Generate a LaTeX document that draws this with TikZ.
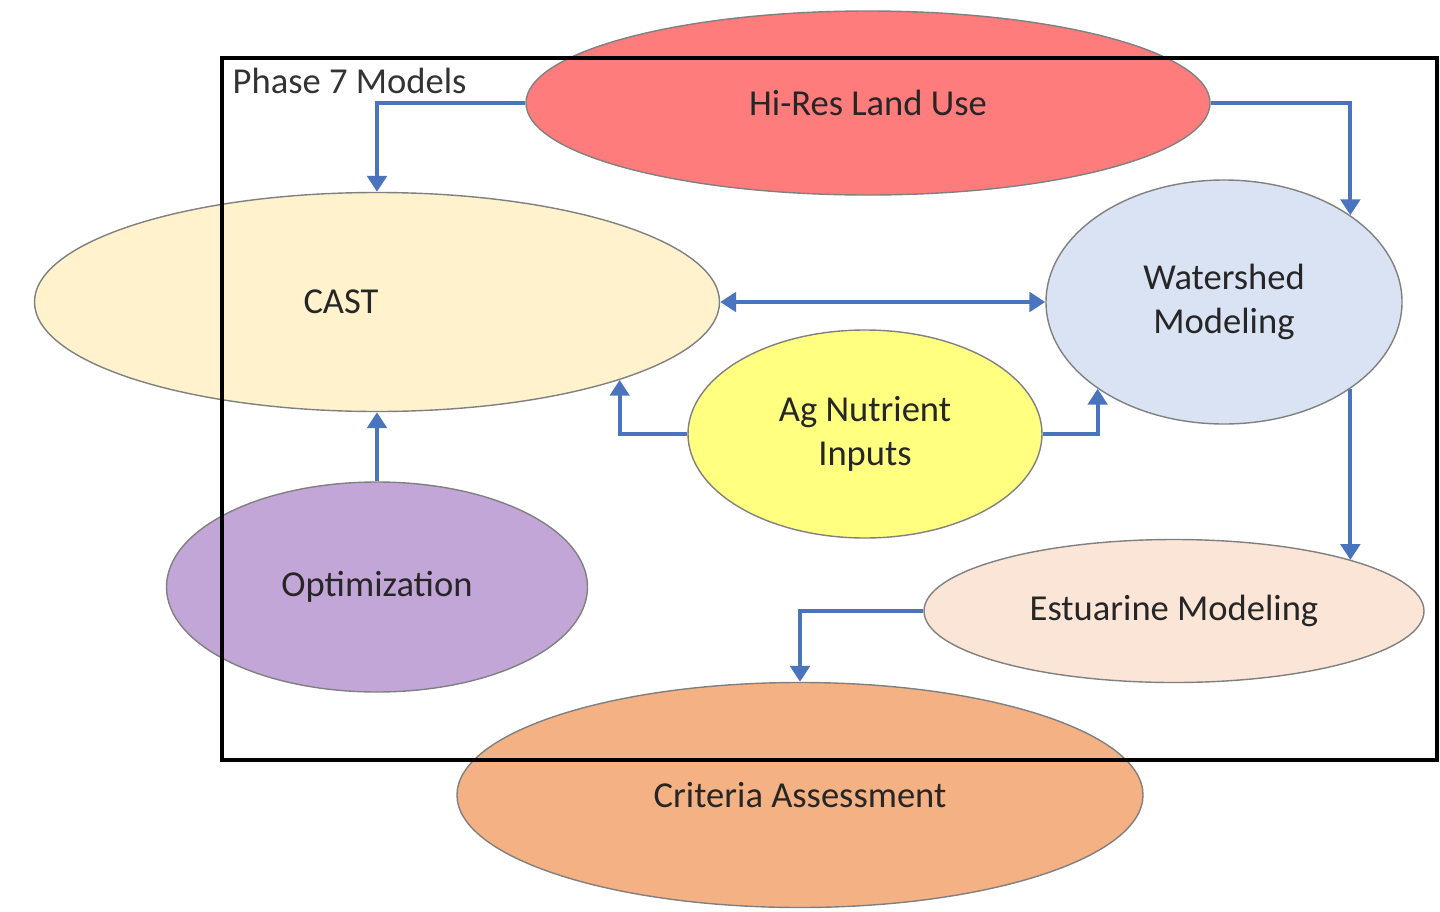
\documentclass[tikz,border=0pt]{standalone}
\usepackage{fontspec}
\setmainfont{Carlito}
\usetikzlibrary{shapes.geometric,arrows.meta}
\definecolor{landred}{HTML}{FF7C7C}
\definecolor{castcream}{HTML}{FFF2CC}
\definecolor{shedblue}{HTML}{DAE3F3}
\definecolor{agyellow}{HTML}{FFFF80}
\definecolor{optpurple}{HTML}{C3A6D8}
\definecolor{estpeach}{HTML}{FBE5D6}
\definecolor{critorange}{HTML}{F4B183}
\definecolor{flowblue}{HTML}{4A74BE}
\tikzset{
  model/.style={ellipse, draw=black!50, line width=0.4pt, inner sep=0pt,
    align=center, font=\fontsize{10.4}{12.4}\selectfont, text=black!85},
  flow/.style={draw=flowblue, line width=1.1pt,
    -{Triangle[width=5.5pt,length=4.5pt]}},
}
\begin{document}
\begin{tikzpicture}
  \useasboundingbox (0,0) rectangle (14.4,9.11);
	\node[model, fill=landred, minimum width=6.84cm, minimum height=1.84cm] (hires) at (8.68,8.08) {Hi-Res Land Use};
	\node[model, fill=castcream, minimum width=6.85cm, minimum height=2.19cm] (cast) at (3.77,6.09) {CAST\hspace*{7.2mm}};
	\node[model, fill=shedblue, minimum width=3.56cm, minimum height=2.44cm] (watershed) at (12.24,6.09) {Watershed\\Modeling};
	\node[model, fill=agyellow, minimum width=3.54cm, minimum height=2.08cm] (agin) at (8.65,4.77) {Ag Nutrient\\Inputs};
	\node[model, fill=optpurple, minimum width=4.21cm, minimum height=2.10cm] (optim) at (3.77,3.24) {Optimization};
	\node[model, fill=estpeach, minimum width=5.00cm, minimum height=1.43cm] (estuarine) at (11.74,3.00) {Estuarine Modeling};
	\node[model, fill=critorange, minimum width=6.86cm, minimum height=2.25cm] (criteria) at (8.00,1.16) {Criteria Assessment};
	% connectors
	\draw[flow] (hires.west) -| (cast.north);
	\draw[flow] (hires.east) -| (watershed.north east);
	\draw[flow, {Triangle[width=5.5pt,length=4.5pt]}-{Triangle[width=5.5pt,length=4.5pt]}] (cast.east) -- (watershed.west);
	\draw[flow] (agin.west) -| (cast.south east);
	\draw[flow] (agin.east) -| (watershed.south west);
	\draw[flow] (optim.north) -- (cast.south);
	\draw[flow] (watershed.south east) -- (watershed.south east |- estuarine.north east);
	\draw[flow] (estuarine.west) -| (criteria.north);
	% frame
	\draw[line width=1.3pt] (2.22,8.53) rectangle (14.37,1.51);
	\node[anchor=base west, inner sep=0pt, font=\fontsize{10.4}{12.4}\selectfont, text=black!80] (phase) at (2.32,8.18) {Phase 7 Models};
\end{tikzpicture}
\end{document}
